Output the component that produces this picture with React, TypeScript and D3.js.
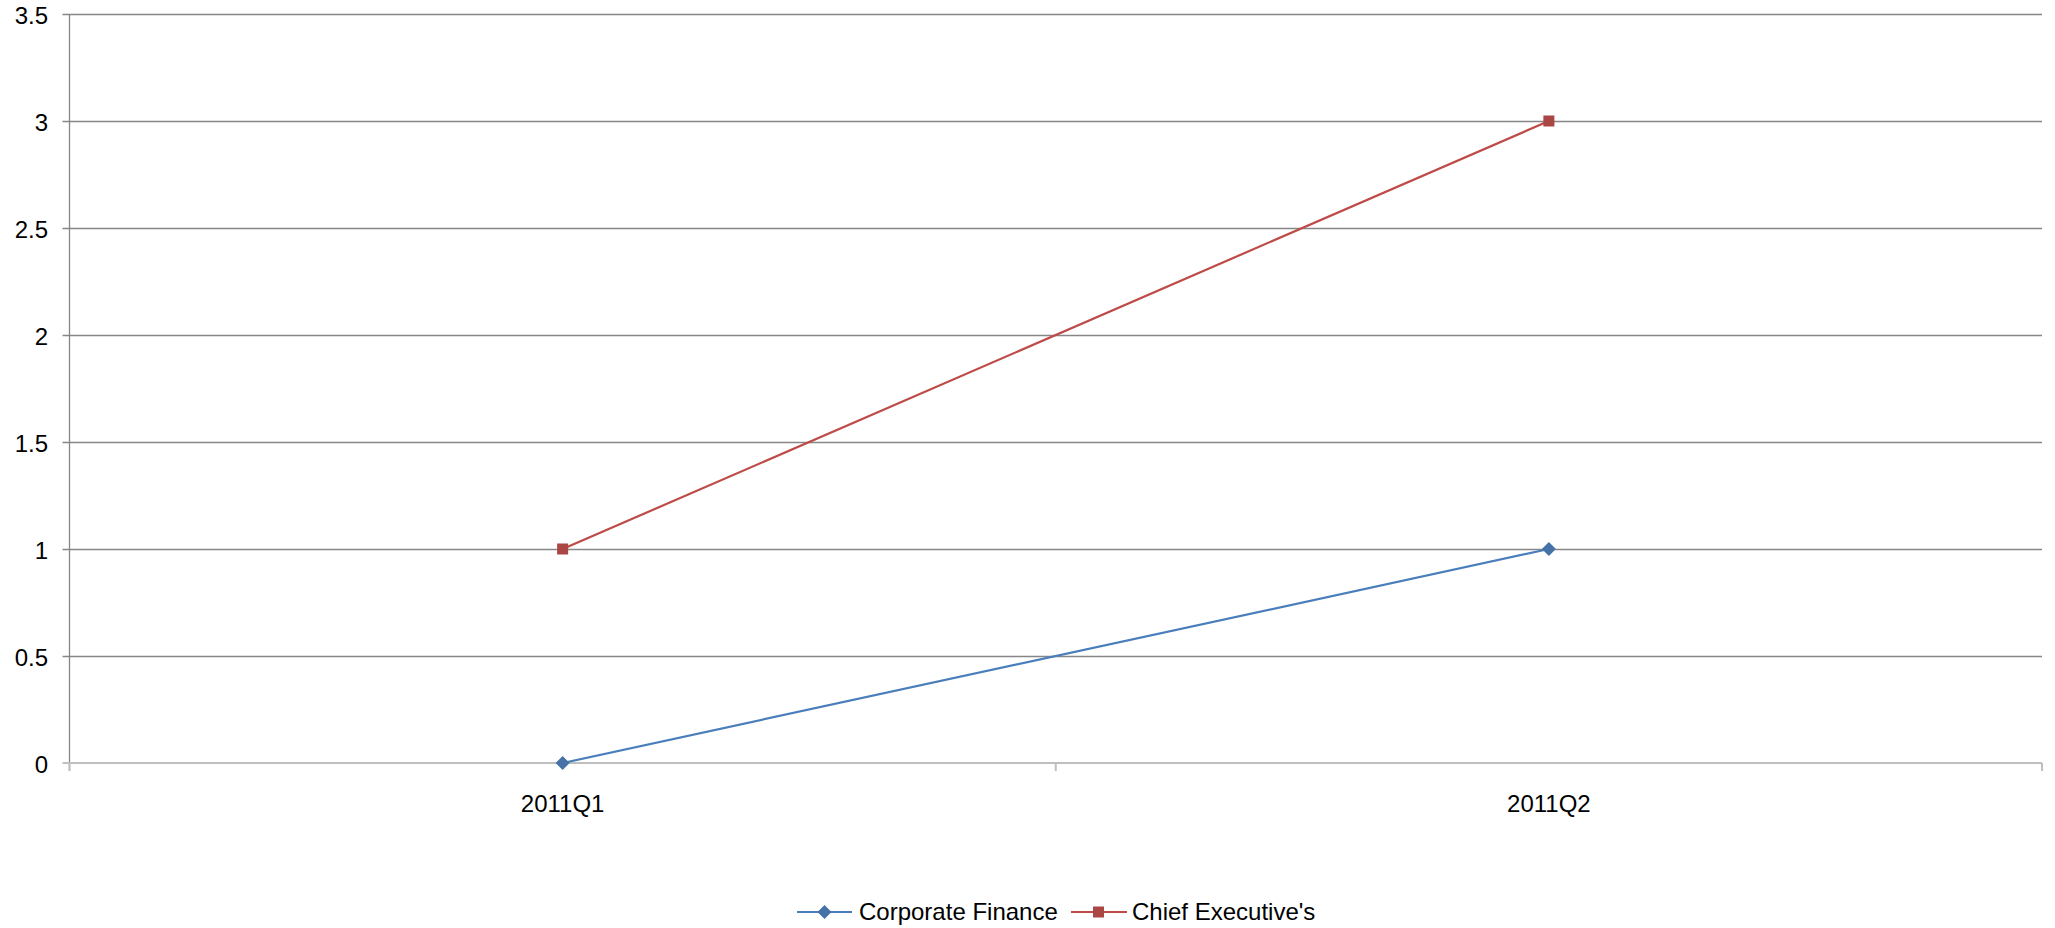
import React from "react";
import * as d3 from "d3";

const categories = ["2011Q1", "2011Q2"];
const corporateFinance = [0, 1];
const chiefExecutives = [1, 3];
const yTicks = [0, 0.5, 1, 1.5, 2, 2.5, 3, 3.5];
const seriesNames = ["Corporate Finance", "Chief Executive's"];

const W = 2055;
const H = 928;
const FONT = "'Liberation Sans', Arial, sans-serif";
const BLUE = "#4A7EBB";
const BLUE_MK = "#4572A7";
const RED = "#BE4B48";
const RED_MK = "#AA4643";

export default function App() {
  const left = 69.5;
  const right = 2042;
  const top = 14;
  const bottom = 763;

  const x = d3.scaleBand<string>().domain(categories).range([left, right]).padding(0);
  const y = d3.scaleLinear().domain([0, 3.5]).range([bottom, top]);
  const cx = (c: string) => (x(c) as number) + x.bandwidth() / 2;

  const line = d3
    .line<number>()
    .x((_, i) => cx(categories[i]))
    .y((v) => y(v));

  const boundaries = [left, ...categories.map((c) => (x(c) as number) + x.bandwidth())];

  const diamond = (px: number, py: number, r: number) =>
    `M${px},${py - r}L${px + r},${py}L${px},${py + r}L${px - r},${py}Z`;

  return (
    <svg
      width={W}
      height={H}
      style={{ position: "absolute", left: 0, top: 0, background: "#fff" }}
      fontFamily={FONT}
    >
      <rect x={0} y={0} width={W} height={H} fill="#fff" />
      {/* horizontal gridlines */}
      {yTicks
        .filter((t) => t !== 0)
        .map((t) => (
          <line
            key={`g${t}`}
            x1={left - 7}
            x2={right}
            y1={Math.round(y(t)) + 0.5}
            y2={Math.round(y(t)) + 0.5}
            stroke="#868686"
            strokeWidth={1.3}
          />
        ))}
      {/* y axis */}
      <line x1={left} x2={left} y1={top} y2={bottom + 8} stroke="#868686" strokeWidth={1.3} />
      {/* x axis */}
      <line x1={left - 7} x2={right} y1={bottom} y2={bottom} stroke="#BFBFBF" strokeWidth={2} />
      {boundaries.map((b, i) => (
        <line key={`xt${i}`} x1={b} x2={b} y1={bottom} y2={bottom + 8} stroke="#BFBFBF" strokeWidth={2} />
      ))}
      {/* y tick labels */}
      {yTicks.map((t) => (
        <text
          key={`yl${t}`}
          x={48}
          y={y(t) + 10}
          textAnchor="end"
          fontSize={24}
          fill="#000"
        >
          {String(t)}
        </text>
      ))}
      {/* x tick labels */}
      {categories.map((c) => (
        <text key={`xl${c}`} x={cx(c)} y={812} textAnchor="middle" fontSize={24} fill="#000">
          {c}
        </text>
      ))}
      {/* series lines */}
      <path d={line(corporateFinance) || ""} fill="none" stroke={BLUE} strokeWidth={2.2} />
      <path d={line(chiefExecutives) || ""} fill="none" stroke={RED} strokeWidth={2.2} />
      {/* markers */}
      {corporateFinance.map((v, i) => (
        <path key={`d${i}`} d={diamond(cx(categories[i]), y(v), 7)} fill={BLUE_MK} />
      ))}
      {chiefExecutives.map((v, i) => (
        <rect key={`s${i}`} x={cx(categories[i]) - 5.5} y={y(v) - 5.5} width={11} height={11} fill={RED_MK} />
      ))}
      {/* legend */}
      <g>
        <line x1={797} x2={852} y1={912} y2={912} stroke={BLUE} strokeWidth={2.2} />
        <path d={diamond(824.5, 912, 7)} fill={BLUE_MK} />
        <text x={859} y={920} fontSize={24} fill="#000">
          {seriesNames[0]}
        </text>
        <line x1={1071} x2={1127} y1={912} y2={912} stroke={RED} strokeWidth={2.2} />
        <rect x={1093} y={906.5} width={11} height={11} fill={RED_MK} />
        <text x={1132} y={920} fontSize={24} fill="#000">
          {seriesNames[1]}
        </text>
      </g>
    </svg>
  );
}
